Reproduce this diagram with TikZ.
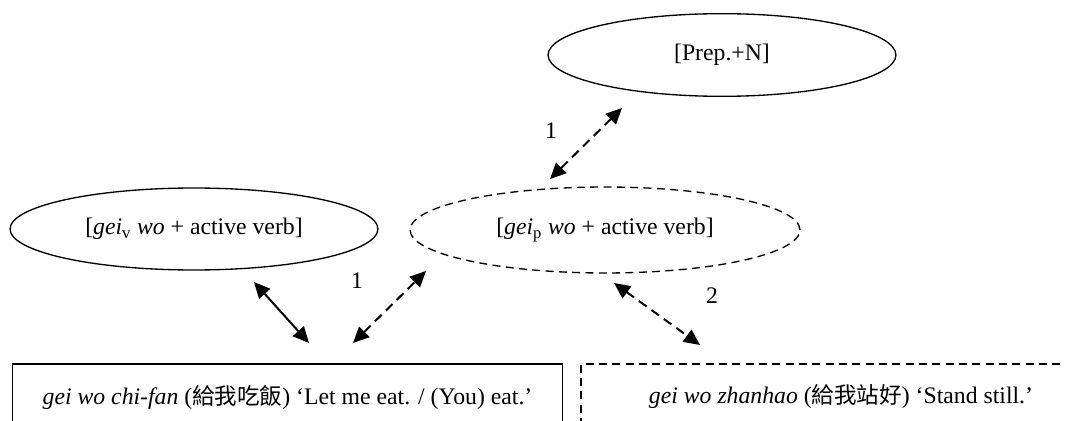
\documentclass[tikz,border=0pt]{standalone}
\usepackage{fontspec}
\setmainfont{Liberation Serif}
\newfontfamily\cjk[Scale=0.95]{Noto Sans CJK TC}
\usetikzlibrary{shapes.geometric,arrows.meta}

\begin{document}
\begin{tikzpicture}[font=\fontsize{17.8}{21}\selectfont,
    schema/.style={ellipse, draw, line width=1pt, inner sep=0pt},
    example/.style={rectangle, draw, line width=1pt, minimum height=49.5pt},
    dashline/.style={dash pattern=on 6pt off 4pt},
    link/.style={line width=1.5pt, dash pattern=on 7pt off 4.5pt,
      {Triangle[length=12pt,width=11pt]}-{Triangle[length=12pt,width=11pt]}}]
    \def\x{0.02636}
    \def\y{-0.02636}
    \clip (0*\x, 0*\y) rectangle (1065*\x, 421*\y);
    \node[schema, minimum width=261pt, minimum height=62pt] (A0_1) at (722*\x, 55*\y) {[Prep.+N]};
    \node[schema, minimum width=276pt, minimum height=61.5pt] (A1_0) at (194*\x, 229*\y) {[\textit{gei}\textsubscript{v} \textit{wo} + active verb]};
    \node[schema, dashline, minimum width=292.5pt, minimum height=64.5pt] (A1_1) at (605*\x, 230*\y) {[\textit{gei}\textsubscript{p} \textit{wo} + active verb]};
    \node[example, minimum width=413pt] (A2_0) at (287.5*\x, 397*\y) {\textit{gei wo chi-fan} ({\cjk 給我吃飯}) `Let me eat. / (You) eat.'};
    \node[example, dashline, minimum width=390pt] (A2_1) at (841*\x, 397*\y) {\textit{gei wo zhanhao} ({\cjk 給我站好}) `Stand still.'};
    \coordinate (T0) at (550*\x, 179*\y);
    \coordinate (T1) at (622*\x, 108*\y);
    \coordinate (S0) at (254*\x, 282*\y);
    \coordinate (S1) at (309*\x, 343*\y);
    \coordinate (D0) at (353*\x, 343*\y);
    \coordinate (D1) at (426*\x, 271*\y);
    \coordinate (E0) at (614*\x, 283*\y);
    \coordinate (E1) at (700*\x, 345*\y);
    \path (T0) edge [link] (T1);
    \path (S0) edge [link, solid] (S1);
    \path (D0) edge [link] (D1);
    \path (E0) edge [link] (E1);
    \node (N0) at (551*\x, 131*\y) {1};
    \node (N1) at (357*\x, 281*\y) {1};
    \node (N2) at (712*\x, 296*\y) {2};
  \end{tikzpicture}
\end{document}
